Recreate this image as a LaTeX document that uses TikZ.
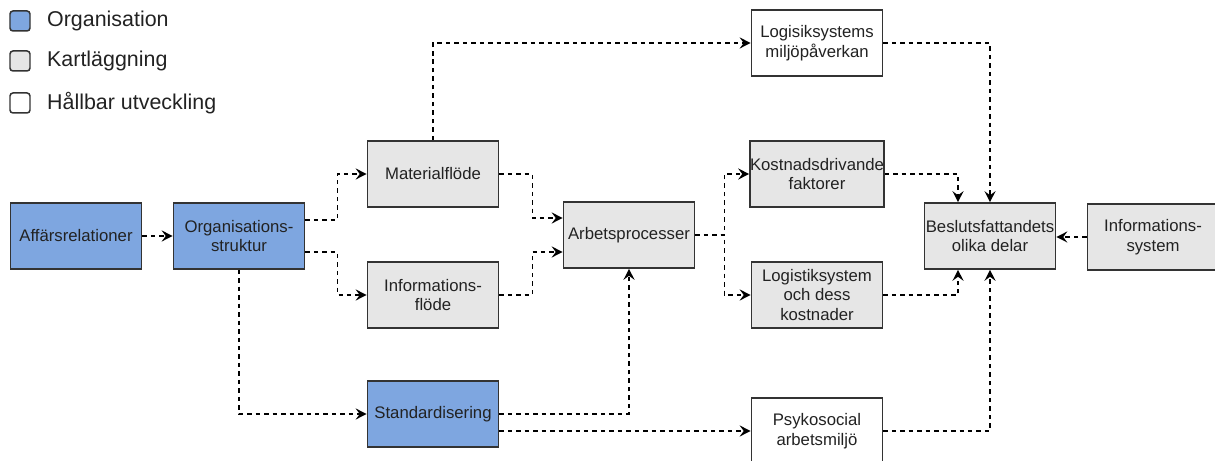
\documentclass[tikz,border=0pt]{standalone}
\usepackage{fontspec}
\setmainfont{Liberation Sans}
\usetikzlibrary{arrows.meta,calc}

\definecolor{orgblue}{HTML}{7EA6E0}
\definecolor{mapgray}{HTML}{E6E6E6}
\definecolor{edgegray}{HTML}{333333}
\definecolor{txtgray}{HTML}{222222}

\begin{document}
\begin{tikzpicture}[x=1bp,y=-1bp,
    box/.style={draw=edgegray,line width=1.6pt,minimum width=131bp,minimum height=66bp,
      inner sep=0pt,align=center,text=txtgray,font=\fontsize{16.8}{19.5}\selectfont},
    orgbox/.style={box,fill=orgblue},
    mapbox/.style={box,fill=mapgray},
    hallbox/.style={box,fill=white},
    flow/.style={draw=black,line width=1.6pt,dash pattern=on 4.5pt off 4pt,
      -{Stealth[length=11pt,width=11pt,inset=4pt]}},
    keybox/.style={draw=edgegray,line width=1.5pt,rounded corners=3pt,minimum size=20bp,inner sep=0pt},
    keytext/.style={anchor=west,inner sep=0pt,text=txtgray,font=\fontsize{21.5}{24}\selectfont}]
  \useasboundingbox (0,0) rectangle (1215,461);

  % legend
  \node[keybox,fill=orgblue]  (korg)  at (20,21)  {};
  \node[keytext]              (torg)  at (47,21)  {Organisation};
  \node[keybox,fill=mapgray]  (kmap)  at (20,61)  {};
  \node[keytext]              (tmap)  at (47,61)  {Kartläggning};
  \node[keybox,fill=white]    (khall) at (20,103) {};
  \node[keytext]              (thall) at (47,103) {Hållbar utveckling};

  % boxes
  \node[orgbox]  (aff) at (76,236)    {Affärsrelationer};
  \node[orgbox]  (org) at (239,236)   {Organisations-\\struktur};
  \node[mapbox]  (mat) at (433,174)   {Materialflöde};
  \node[mapbox]  (inf) at (433,295)   {Informations-\\flöde};
  \node[orgbox]  (std) at (433,414)   {Standardisering};
  \node[mapbox]  (arb) at (629,235)   {Arbetsprocesser};
  \node[hallbox] (log) at (817,43)    {Logisiksystems\\miljöpåverkan};
  \node[mapbox]  (kos) at (817,174)   {Kostnadsdrivande\\faktorer};
  \node[mapbox]  (lsk) at (817,295)   {Logistiksystem\\och dess\\kostnader};
  \node[hallbox] (psy) at (817,431)   {Psykosocial\\arbetsmiljö};
  \node[mapbox]  (bes) at (990,236)   {Beslutsfattandets\\olika delar};
  \node[mapbox]  (isy) at (1153,237)  {Informations-\\system};

  % flows
  \draw[flow] (aff.east) -- (org.west);
  \draw[flow] ([yshift=16bp]org.east) -- ++(32,0) |- (mat.west);
  \draw[flow] ([yshift=-16bp]org.east) -- ++(32,0) |- (inf.west);
  \draw[flow] (org.south) |- (std.west);
  \draw[flow] (mat.north) |- (log.west);
  \draw[flow] (mat.east) -- ++(33,0) |- ([yshift=17bp]arb.west);
  \draw[flow] (inf.east) -- ++(33,0) |- ([yshift=-17bp]arb.west);
  \draw[flow] (std.east) -| (arb.south);
  \draw[flow] (std.east |- psy.west) -- (psy.west);
  \draw[flow] (arb.east) -- ++(29,0) |- (kos.west);
  \draw[flow] (arb.east) -- ++(29,0) |- (lsk.west);
  \draw[flow] (log.east) -| (bes.north);
  \draw[flow] (kos.east) -| ([xshift=-32bp]bes.north);
  \draw[flow] (lsk.east) -| ([xshift=-32bp]bes.south);
  \draw[flow] (psy.east) -| (bes.south);
  \draw[flow] (isy.west) -- (bes.east |- isy.west);
\end{tikzpicture}
\end{document}
